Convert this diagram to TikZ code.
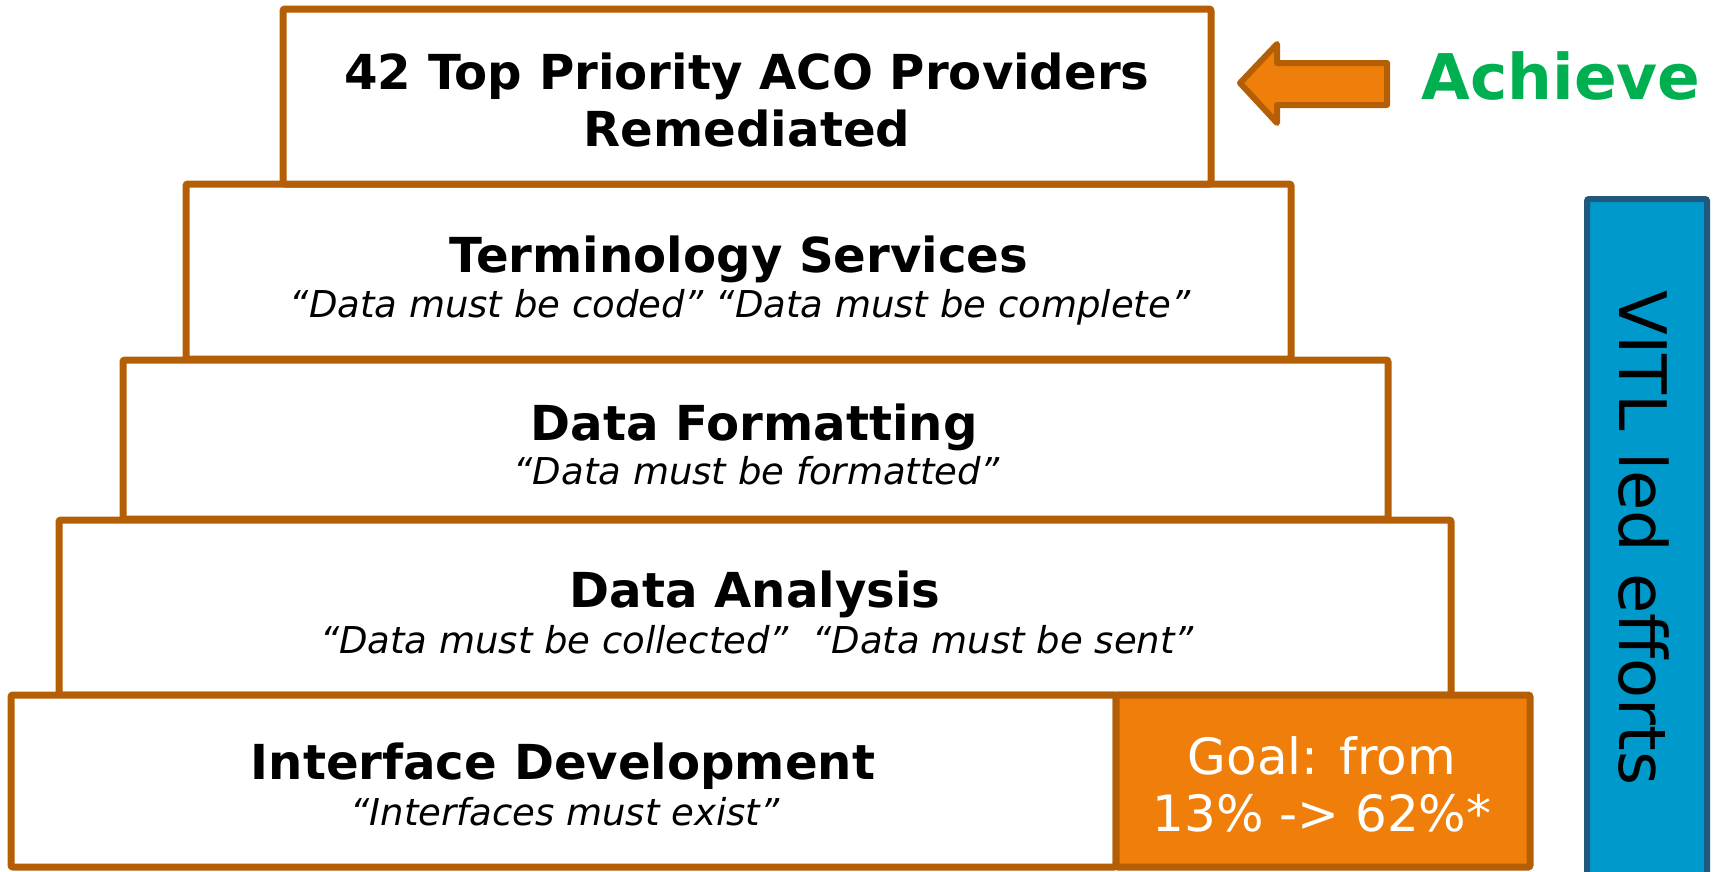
\documentclass[tikz,border=0pt]{standalone}
\usepackage{fontspec}
\setmainfont{DejaVu Sans}
\definecolor{brd}{HTML}{B45F06}
\definecolor{orng}{HTML}{EF7F0A}
\definecolor{bluef}{HTML}{0099CC}
\definecolor{blued}{HTML}{1F5A7E}
\definecolor{achg}{HTML}{00B050}
\begin{document}
\begin{tikzpicture}[x=1pt,y=-1pt,
  box/.style={draw=brd, line width=7pt, fill=white, rounded corners=2pt, inner sep=0pt},
  ttl/.style={font=\fontsize{48.2}{56}\selectfont\bfseries, anchor=base, inner sep=0pt},
  sub/.style={font=\fontsize{37}{44}\selectfont\itshape, anchor=base, inner sep=0pt},
  goaltxt/.style={font=\fontsize{50}{58}\selectfont, text=white, anchor=base, inner sep=0pt}]
\useasboundingbox (0,0) rectangle (1720,871);
% boxes
\node[box, minimum width=1392pt, minimum height=175pt] (ana) at (755,607.5) {};
\node[box, minimum width=1105pt, minimum height=172pt] (iface) at (563.5,781) {};
\node[box, fill=orng, minimum width=414pt, minimum height=172pt] (goal) at (1323,781) {};
\node[box, minimum width=1265pt, minimum height=159pt] (fmt) at (755.5,439.5) {};
\node[box, minimum width=1105pt, minimum height=175pt] (term) at (738.5,271.5) {};
\node[box, minimum width=928pt, minimum height=175pt] (top) at (747,96.5) {};
\node[draw=blued, fill=bluef, line width=6pt, rounded corners=2pt, minimum width=120pt, minimum height=690pt, inner sep=0pt] (vitl) at (1647,544) {};
% texts
\node[ttl] (topA) at (747,89) {42 Top Priority ACO Providers};
\node[ttl] (topB) at (747,146) {Remediated};
\node[ttl] (termT) at (739,272) {Terminology Services};
\node[sub] (termS) at (740,317) {“Data must be coded” “Data must be complete”};
\node[ttl] (fmtT) at (754,440) {Data Formatting};
\node[sub] (fmtS) at (757,484) {“Data must be formatted”};
\node[ttl] (anaT) at (755,607) {Data Analysis};
\node[sub] (anaS) at (757,653) {“Data must be collected”\ \ “Data must be sent”};
\node[ttl] (ifaceT) at (563,779) {Interface Development};
\node[sub] (ifaceS) at (565,825) {“Interfaces must exist”};
\node[goaltxt] (goalA) at (1322,774) {Goal: from};
\node[goaltxt] (goalB) at (1322,831) {13\% -> 62\%*};
\node[font=\fontsize{65.5}{72}\selectfont, rotate=-90, inner sep=0pt] (vitlT) at (1644,538) {VITL led efforts};
\node[font=\fontsize{63}{70}\selectfont\bfseries, text=achg, anchor=base, inner sep=0pt] (ach) at (1561,99) {Achieve};
% arrow
\draw[draw=brd, fill=orng, line width=6pt, line join=round]
  (1240,83) -- (1277,44) -- (1277,63) -- (1387,63) -- (1387,105) -- (1277,105) -- (1277,123) -- cycle;
\end{tikzpicture}
\end{document}
